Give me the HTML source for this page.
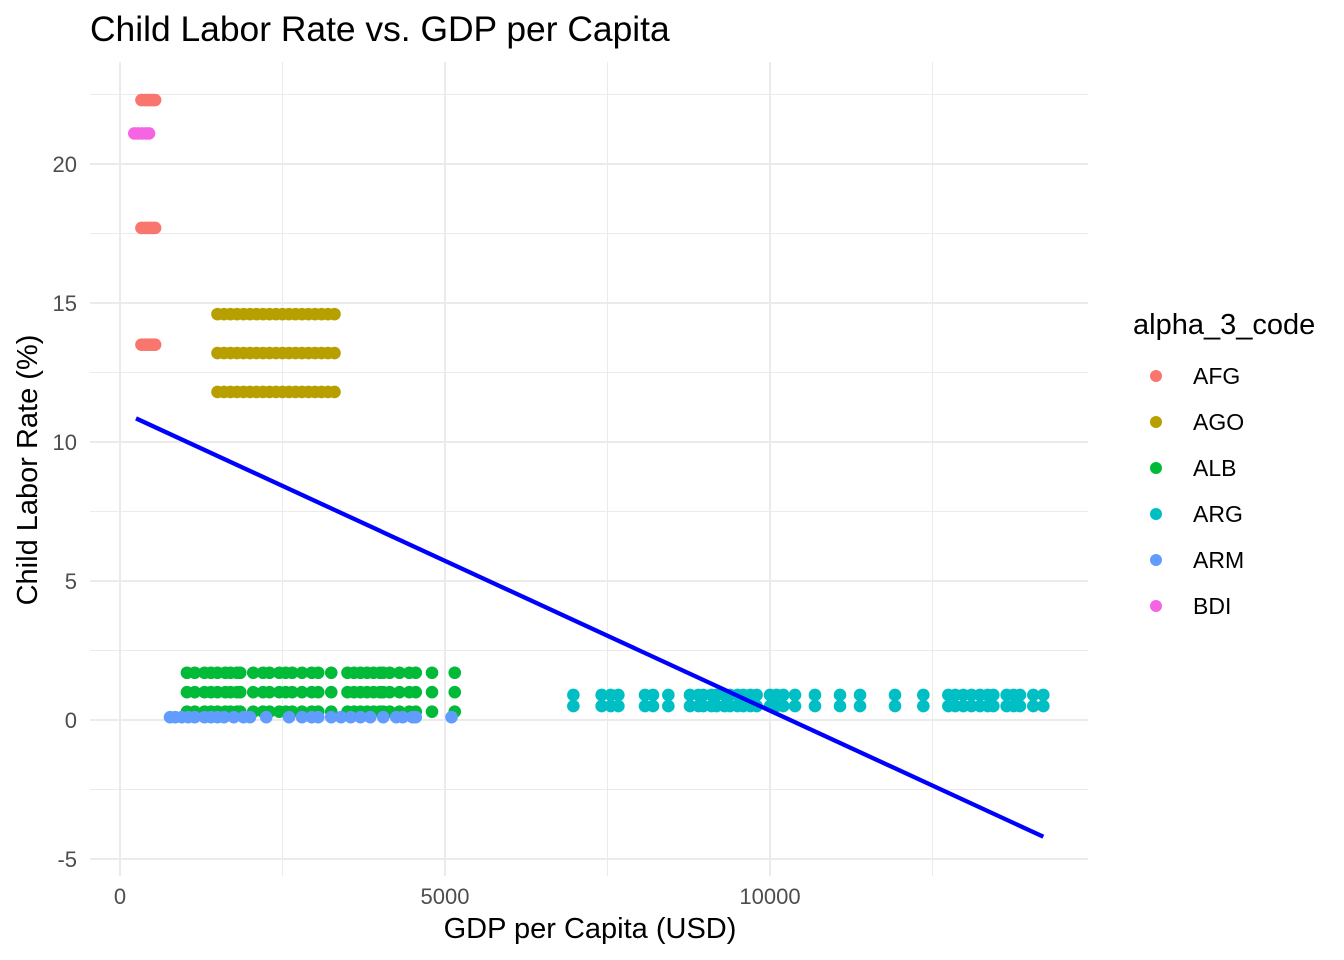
<!DOCTYPE html>
<html><head><meta charset="utf-8"><style>
body{margin:0;background:#fff;}
svg{display:block;font-family:"Liberation Sans",sans-serif;}
</style></head><body>
<svg id="chart" width="1344" height="960">
<text x="90" y="41" font-size="35.4" fill="#000">Child Labor Rate vs. GDP per Capita</text>
<g id="grid"></g>
<g id="points"></g>
<g id="fit"></g>
<g id="axes"></g>
<text x="590" y="938" font-size="29" text-anchor="middle" fill="#000">GDP per Capita (USD)</text>
<text transform="translate(37,470) rotate(-90)" font-size="29" text-anchor="middle" fill="#000">Child Labor Rate (%)</text>
<g id="legend"><text x="1133" y="334" font-size="29" fill="#000">alpha_3_code</text></g>
</svg>
<script>
const countries=["AFG","AGO","ALB","ARG","ARM","BDI"];
const colors=["#F8766D","#B79F00","#00BA38","#00BFC4","#619CFF","#F564E3"];
const afgX=[330,380,420,460,500,540];
const afgY=[22.3,17.7,13.5];
const agoX=[1500,1600,1700,1800,1900,2000,2100,2200,2300,2400,2500,2600,2700,2800,2900,3000,3100,3200,3300];
const agoY=[14.6,13.2,11.8];
const albX=[1030,1150,1300,1400,1500,1620,1700,1800,1850,2050,2200,2300,2450,2550,2650,2800,2950,3050,3250,3500,3600,3700,3800,3900,4000,4050,4150,4300,4450,4550,4800,5150];
const albY=[1.7,1.0,0.3];
const argX=[6975,7410,7550,7667,8077,8200,8436,8769,8900,8974,9100,9179,9300,9385,9500,9590,9700,9795,10000,10100,10205,10385,10692,11077,11385,11923,12359,12744,12850,12974,13100,13231,13350,13436,13641,13750,13846,14051,14205];
const argY=[0.9,0.5];
const armX=[770,850,950,1050,1150,1300,1400,1500,1600,1750,1900,2000,2250,2600,2800,2950,3050,3250,3400,3550,3700,3850,4050,4250,4350,4500,4550,5100];
const armY=[0.1];
const bdiX=[220,280,340,400,446];
const bdiY=[21.1];
const xTicks=[0,5000,10000];
const xTickLabels=["0","5000","10000"];
const yTicks=[-5,0,5,10,15,20];
const yTickLabels=["-5","0","5","10","15","20"];
const fitIntercept=11.115;
const fitSlope=-0.001078;
const fitRange=[246,14205];

const NS="http://www.w3.org/2000/svg";
const X=v=>120+v*0.065;
const Y=v=>720-v*27.8;
function mk(tag,attrs,parent){const e=document.createElementNS(NS,tag);for(const k in attrs)e.setAttribute(k,attrs[k]);parent.appendChild(e);return e;}
const grid=document.getElementById('grid');
[-2.5,2.5,7.5,12.5,17.5,22.5].forEach(v=>{const l=mk('line',{x1:90,x2:1088,y1:Y(v),y2:Y(v),stroke:'#ebebeb','stroke-width':1},grid);

});
[2500,7500,12500].forEach(v=>{const l=mk('line',{x1:X(v),x2:X(v),y1:62,y2:876,stroke:'#ebebeb','stroke-width':1},grid);

});
yTicks.forEach(v=>{const l=mk('line',{x1:90,x2:1088,y1:Y(v),y2:Y(v),stroke:'#ebebeb','stroke-width':2},grid);

});
xTicks.forEach(v=>{const l=mk('line',{x1:X(v),x2:X(v),y1:62,y2:876,stroke:'#ebebeb','stroke-width':2},grid);

});
const axes=document.getElementById('axes');
yTicks.forEach((v,i)=>{const t=mk('text',{x:77,y:Y(v)+8,'font-size':22,'text-anchor':'end',fill:'#4d4d4d'},axes);t.textContent=yTickLabels[i];

});
xTicks.forEach((v,i)=>{const t=mk('text',{x:X(v),y:904,'font-size':22,'text-anchor':'middle',fill:'#4d4d4d'},axes);t.textContent=xTickLabels[i];

});
const pts=document.getElementById('points');
const series=[[afgX,afgY],[agoX,agoY],[albX,albY],[argX,argY],[armX,armY],[bdiX,bdiY]];
series.forEach((s,i)=>{s[1].forEach(yv=>s[0].forEach(xv=>{const c=mk('circle',{cx:X(xv),cy:Y(yv),r:6.3,fill:colors[i]},pts);

}));});
const fit=document.getElementById('fit');
const fl=mk('line',{x1:X(fitRange[0]),y1:Y(fitIntercept+fitSlope*fitRange[0]),x2:X(fitRange[1]),y2:Y(fitIntercept+fitSlope*fitRange[1]),stroke:'#0000ff','stroke-width':4.3},fit);


const leg=document.getElementById('legend');
countries.forEach((c,i)=>{const y=376+i*46;
const d=mk('circle',{cx:1156,cy:y,r:6,fill:colors[i]},leg);


const t=mk('text',{x:1193,y:y+8,'font-size':23,fill:'#000'},leg);t.textContent=c;

});
</script>
</body></html>
